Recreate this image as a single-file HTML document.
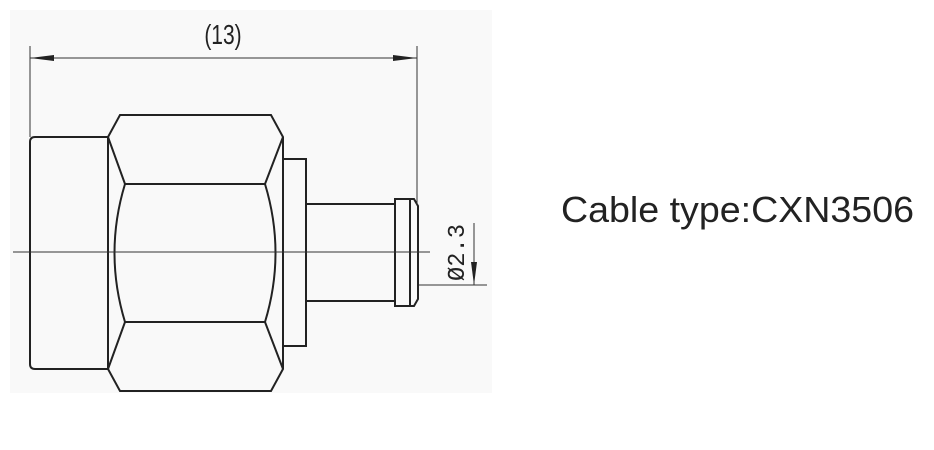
<!DOCTYPE html>
<html><head><meta charset="utf-8"><style>
html,body{margin:0;padding:0;background:#fff;}
svg{display:block;}
</style></head><body>
<svg width="934" height="450" viewBox="0 0 934 450" xmlns="http://www.w3.org/2000/svg">
<rect x="10" y="10" width="482" height="383" fill="#f9f9f9"/>
<g fill="none" stroke="#222" stroke-width="2">
<path d="M108,137 L35,137 Q30,137 30,142 L30,364 Q30,369 35,369 L108,369"/>
<path d="M120,115 L271,115 L283,137 L283,369 L271,391 L120,391 L108,369 L108,137 Z"/>
<path d="M108,137 L125,184 L265,184 L283,137"/>
<path d="M108,369 L125,322 L265,322 L283,369"/>
<path d="M125,184 Q104,253 125,322"/>
<path d="M265,184 Q286,253 265,322"/>
<rect x="283" y="159" width="23" height="187"/>
<path d="M306,204 L395,204 M306,301 L395,301"/>
<rect x="395" y="199" width="15" height="107"/>
<path d="M410,199 L414,199 L418,206 L418,299 L414,306 L410,306"/>
</g>
<g stroke="#333" stroke-width="1" fill="none">
<line x1="13" y1="252" x2="430" y2="252"/>
<line x1="30" y1="46" x2="30" y2="137"/>
<line x1="417" y1="46" x2="417" y2="205"/>
<line x1="30" y1="58" x2="417" y2="58"/>
<line x1="419" y1="285" x2="487" y2="285"/>
<line x1="474" y1="223" x2="474" y2="285"/>
</g>
<polygon points="30,58 54,55 54,61" fill="#222"/>
<polygon points="417,58 393,55 393,61" fill="#222"/>
<polygon points="474,285 471,262 477,262" fill="#222"/>
<text x="223" y="44" text-anchor="middle" font-family="Liberation Sans Narrow, Liberation Sans, sans-serif" font-size="28" fill="#222" transform="translate(223,0) scale(0.75,1) translate(-223,0)">(13)</text>
<text transform="translate(464,281) rotate(-90)" font-family="Liberation Mono, monospace" font-size="24" fill="#222" textLength="57" lengthAdjust="spacingAndGlyphs">Ø2.3</text>
<text x="561" y="222" font-family="Liberation Sans, sans-serif" font-size="36" fill="#222" textLength="353" lengthAdjust="spacingAndGlyphs">Cable type:CXN3506</text>
</svg>
</body></html>
